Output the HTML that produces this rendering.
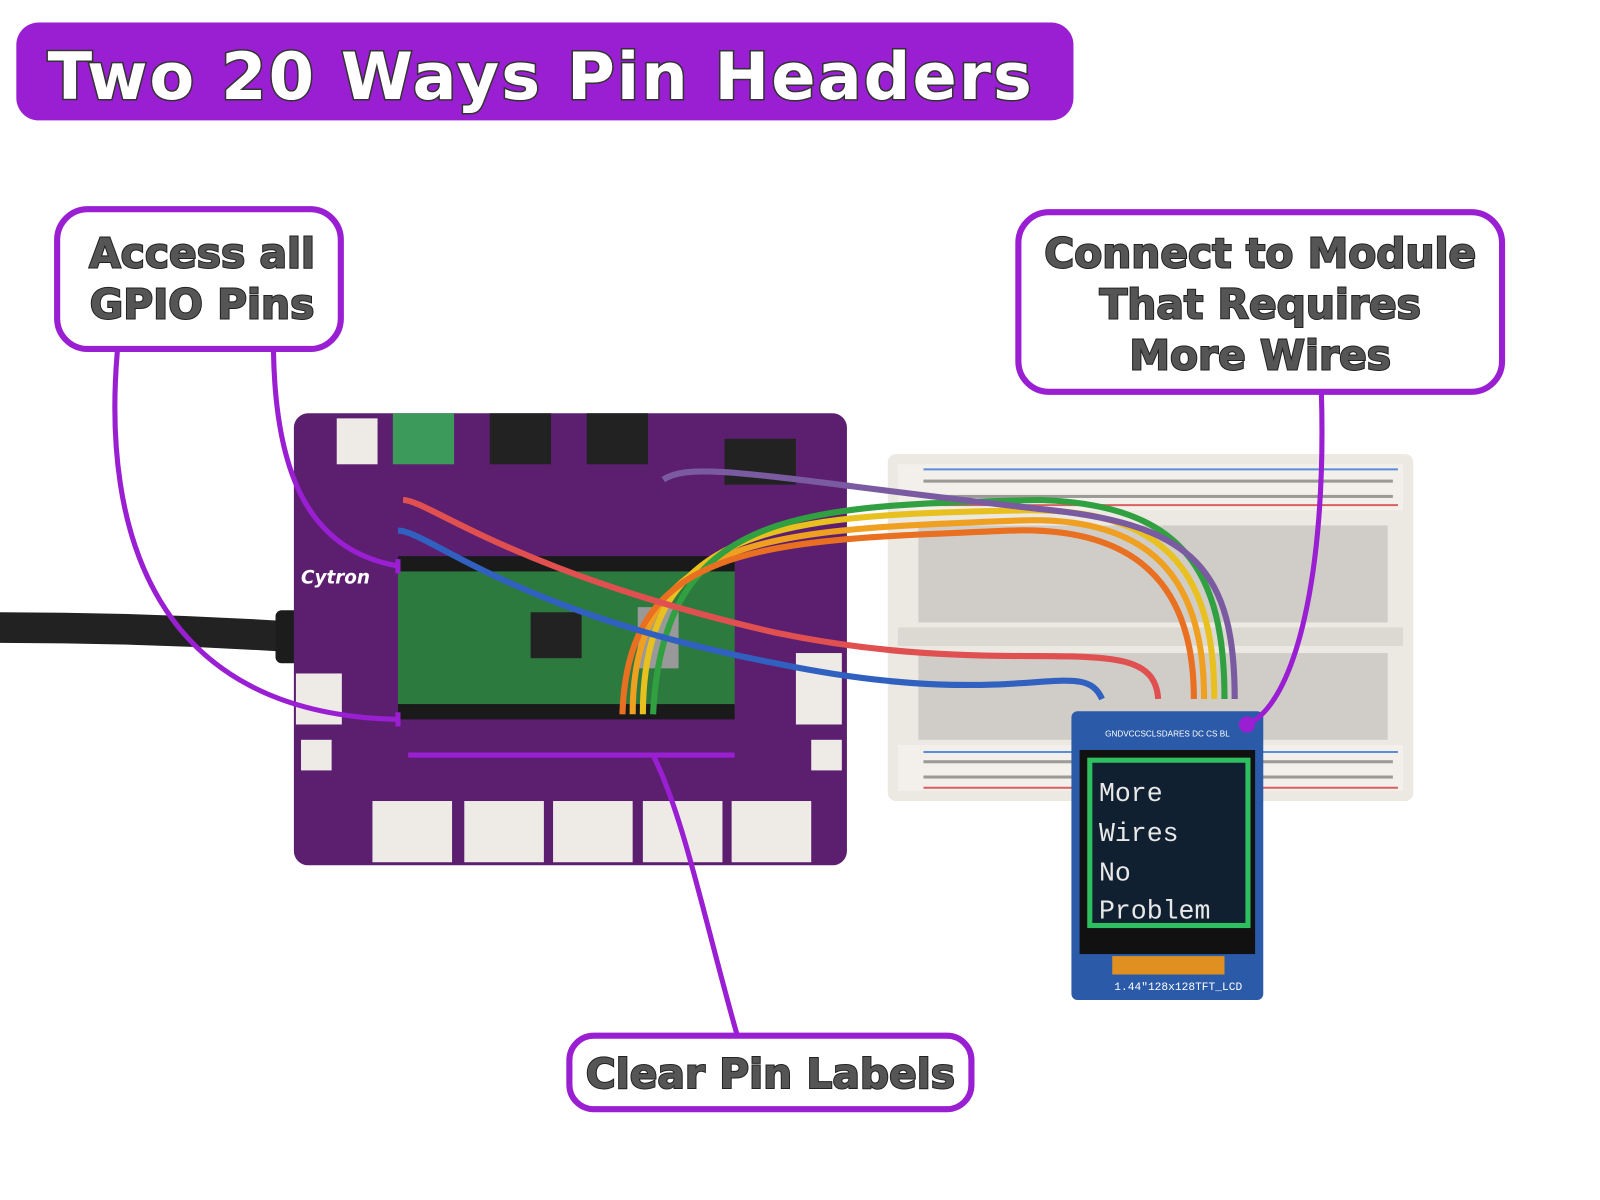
<!DOCTYPE html>
<html><head><meta charset="utf-8"><style>
html,body{margin:0;padding:0;background:#fff;width:1600px;height:1200px;overflow:hidden}
svg{display:block}
.t{font-family:"DejaVu Sans","Liberation Sans",sans-serif;font-weight:bold}
</style></head><body>
<svg width="1600" height="1200" viewBox="0 0 1568 1176" preserveAspectRatio="none" xmlns="http://www.w3.org/2000/svg">
<rect width="1568" height="1176" fill="#ffffff"/>
<rect x="16" y="22" width="1036" height="96" rx="22" fill="#9a1fd2"/>
<text x="530" y="97" text-anchor="middle" class="t" font-size="64" fill="#fff" stroke="#333" stroke-width="3" paint-order="stroke" letter-spacing="2">Two 20 Ways Pin Headers</text>

<rect x="870" y="445" width="515" height="340" rx="8" fill="#ece8e2"/>
<rect x="880" y="455" width="495" height="45" fill="#f3f0eb"/>
<rect x="880" y="730" width="495" height="45" fill="#f3f0eb"/>
<rect x="880" y="615" width="495" height="18" fill="#dcd8d2"/>
<g fill="#333" opacity="0.45">
<rect x="905" y="470" width="460" height="3"/><rect x="905" y="485" width="460" height="3"/>
<rect x="905" y="745" width="460" height="3"/><rect x="905" y="760" width="460" height="3"/>
</g>
<g fill="#555" opacity="0.18">
<rect x="900" y="515" width="460" height="95"/><rect x="900" y="640" width="460" height="85"/>
</g>
<line x1="905" y1="460" x2="1370" y2="460" stroke="#5a8ed8" stroke-width="2"/>
<line x1="905" y1="495" x2="1370" y2="495" stroke="#d86060" stroke-width="2"/>
<line x1="905" y1="737" x2="1370" y2="737" stroke="#5a8ed8" stroke-width="2"/>
<line x1="905" y1="772" x2="1370" y2="772" stroke="#d86060" stroke-width="2"/>

<path d="M0 615 Q150 615 300 625" stroke="#222" stroke-width="30" fill="none"/>
<rect x="270" y="598" width="80" height="52" rx="6" fill="#1c1c1c"/>
<rect x="350" y="605" width="60" height="40" fill="#aaa"/>

<rect x="288" y="405" width="542" height="443" rx="14" fill="#5c1f70"/>
<rect x="385" y="405" width="60" height="50" fill="#3c9a5a"/>
<rect x="480" y="405" width="60" height="50" fill="#222"/>
<rect x="575" y="405" width="60" height="50" fill="#222"/>
<rect x="710" y="430" width="70" height="45" fill="#222"/>
<rect x="330" y="410" width="40" height="45" fill="#eeeae5"/>
<rect x="390" y="550" width="330" height="150" fill="#2d7a3f"/>
<rect x="390" y="545" width="330" height="15" fill="#1a1a1a"/>
<rect x="390" y="690" width="330" height="15" fill="#1a1a1a"/>
<rect x="520" y="600" width="50" height="45" fill="#222"/>
<rect x="625" y="595" width="40" height="60" fill="#999"/>
<g fill="#eeeae5">
<rect x="365" y="785" width="78" height="60"/><rect x="455" y="785" width="78" height="60"/><rect x="542" y="785" width="78" height="60"/><rect x="630" y="785" width="78" height="60"/><rect x="717" y="785" width="78" height="60"/>
<rect x="780" y="640" width="45" height="70"/><rect x="290" y="660" width="45" height="50"/>
<rect x="295" y="725" width="30" height="30"/><rect x="795" y="725" width="30" height="30"/>
</g>
<text x="295" y="572" class="t" font-size="18" fill="#fff" font-style="italic">Cytron</text>

<g fill="none" stroke-width="6">
<path d="M620 700 C620 520 760 520 1000 510 C1140 505 1180 580 1180 685" stroke="#f0a020"/>
<path d="M630 700 C630 510 770 505 1010 500 C1150 500 1190 570 1190 685" stroke="#e8c020"/>
<path d="M640 700 C650 500 780 495 1020 490 C1160 495 1200 560 1200 685" stroke="#30a040"/>
<path d="M610 700 C615 530 750 530 990 520 C1130 515 1170 590 1170 685" stroke="#e87020"/>
<path d="M650 470 C680 450 760 470 1030 500 C1170 515 1210 560 1210 685" stroke="#7a5aa0"/>
<path d="M395 490 C420 490 500 560 760 620 C1000 670 1130 610 1135 685" stroke="#e05050"/>
<path d="M390 520 C420 520 500 600 760 650 C1000 700 1060 640 1080 685" stroke="#3060c0"/>
</g>

<rect x="1050" y="697" width="188" height="283" rx="6" fill="#2a5aa8"/>
<rect x="1058" y="735" width="172" height="200" fill="#111"/>
<rect x="1068" y="745" width="155" height="162" fill="#102030" stroke="#2ec060" stroke-width="5"/>
<rect x="1090" y="937" width="110" height="18" fill="#e09020"/>
<g font-family="Liberation Mono,monospace" font-size="26" fill="#e8e8e8">
<text x="1077" y="785">More</text><text x="1077" y="824">Wires</text><text x="1077" y="863">No</text><text x="1077" y="900">Problem</text>
</g>
<text x="1092" y="970" font-family="Liberation Mono,monospace" font-size="11" fill="#fff">1.44"128x128TFT_LCD</text>
<text x="1083" y="722" font-family="Liberation Sans,sans-serif" font-size="8" fill="#fff">GNDVCCSCLSDARES DC CS BL</text>

<g fill="none" stroke="#9a1fd2" stroke-width="5">
<path d="M115 344 C100 520 150 700 390 705"/>
<path d="M268 344 C270 460 300 540 392 555"/>
<path d="M1295 386 C1300 560 1270 690 1222 710"/>
<path d="M722 1013 C690 900 670 800 640 740"/>
<line x1="400" y1="740" x2="720" y2="740"/>
<line x1="390" y1="548" x2="390" y2="562"/><line x1="390" y1="698" x2="390" y2="712"/>
</g>
<circle cx="1222" cy="710" r="8" fill="#9a1fd2"/>

<g fill="#fff" stroke="#9a1fd2" stroke-width="6">
<rect x="56" y="205" width="278" height="137" rx="30"/>
<rect x="998" y="208" width="474" height="176" rx="30"/>
<rect x="558" y="1015" width="394" height="72" rx="24"/>
</g>
<g class="t" fill="#555" stroke="#222" stroke-width="2" paint-order="stroke" text-anchor="middle" font-size="40">
<text x="198" y="262">Access all</text><text x="198" y="312">GPIO Pins</text>
<text x="1235" y="262">Connect to Module</text><text x="1235" y="312">That Requires</text><text x="1235" y="362">More Wires</text>
<text x="755" y="1066">Clear Pin Labels</text>
</g>
</svg>
</body></html>
